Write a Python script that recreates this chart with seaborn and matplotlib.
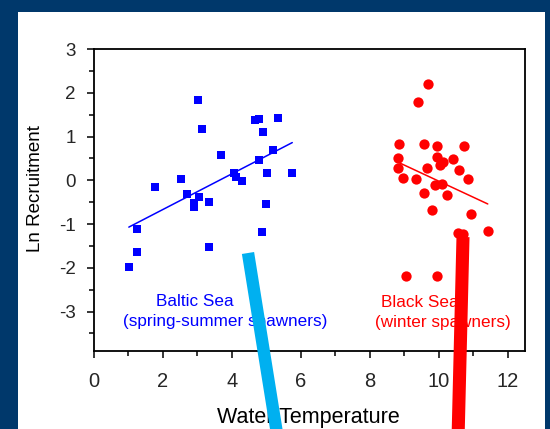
import numpy as np
import pandas as pd
import matplotlib
matplotlib.use("Agg")
import matplotlib.pyplot as plt
from matplotlib.patches import Rectangle
from matplotlib.lines import Line2D
from matplotlib.ticker import MultipleLocator
import seaborn as sns

# -------------------------
# Data
# -------------------------
baltic_temp = [3.03, 3.14, 4.67, 4.78, 5.35, 4.89, 3.69, 5.19, 4.78, 4.07,
               4.11, 4.30, 5.03, 5.75, 2.51, 1.76, 2.70, 3.05, 2.91, 2.89,
               3.34, 4.99, 1.24, 4.86, 1.26, 3.34, 1.01]
baltic_rec = [1.84, 1.18, 1.37, 1.39, 1.43, 1.10, 0.57, 0.70, 0.47, 0.17,
              0.07, -0.01, 0.16, 0.17, 0.04, -0.15, -0.31, -0.39, -0.52, -0.61,
              -0.49, -0.53, -1.12, -1.18, -1.64, -1.52, -1.99]

black_temp = [9.70, 9.39, 8.85, 9.57, 9.95, 10.72, 8.81, 9.94, 10.41, 10.04,
              10.12, 8.81, 9.65, 10.59, 8.96, 9.34, 10.85, 9.90, 10.10, 9.58,
              10.23, 9.81, 10.93, 10.55, 10.69, 11.42, 9.04, 9.95]
black_rec = [2.20, 1.79, 0.83, 0.83, 0.79, 0.78, 0.51, 0.54, 0.48, 0.36,
             0.41, 0.29, 0.27, 0.24, 0.06, 0.03, 0.03, -0.10, -0.09, -0.28,
             -0.34, -0.67, -0.78, -1.21, -1.22, -1.15, -2.19, -2.19]

baltic = pd.DataFrame({"temp": baltic_temp, "rec": baltic_rec})
black = pd.DataFrame({"temp": black_temp, "rec": black_rec})

navy = "#00386b"
blue = "#0000ff"
red = "#ff0000"

sns.set_style("ticks")
plt.rcParams["font.family"] = ["Liberation Sans", "DejaVu Sans"]

fig = plt.figure(figsize=(5.5, 4.29), dpi=100, facecolor=navy)

# white slide panel on navy background
fig.add_artist(Rectangle((18 / 550, 0), 527 / 550, 1 - 12 / 429,
                         transform=fig.transFigure, facecolor="white",
                         edgecolor="none", zorder=0))

ax = fig.add_axes([94 / 550, 78 / 429, 431 / 550, 302 / 429])
ax.set_facecolor("white")

# -------------------------
# Scatter + regression lines
# -------------------------
sns.regplot(data=baltic, x="temp", y="rec", ax=ax, ci=None, truncate=True,
            color=blue, marker="s",
            scatter_kws={"s": 28, "linewidths": 0, "alpha": 1},
            line_kws={"linewidth": 1.1})
sns.regplot(data=black, x="temp", y="rec", ax=ax, ci=None, truncate=True,
            color=red, marker="o",
            scatter_kws={"s": 55, "linewidths": 0, "alpha": 1},
            line_kws={"linewidth": 1.1})

ax.set_xlim(0, 12.5)
ax.set_ylim(-3.9, 3)
ax.xaxis.set_major_locator(MultipleLocator(2))
ax.xaxis.set_minor_locator(MultipleLocator(1))
ax.yaxis.set_major_locator(MultipleLocator(1))
ax.yaxis.set_minor_locator(MultipleLocator(0.5))
ax.set_yticks([-3, -2, -1, 0, 1, 2, 3])
ax.set_yticklabels(["-3", "-2", "-1", "0", "1", "2", "3"])

for s in ax.spines.values():
    s.set_visible(True)
    s.set_color("black")
    s.set_linewidth(1.3)

ax.tick_params(axis="both", which="major", direction="out", length=5,
               width=1.1, color="black")
ax.tick_params(axis="both", which="minor", direction="out", length=3.5,
               width=1.1, color="black")
ax.tick_params(axis="x", which="major", labelsize=14.5, pad=10)
ax.tick_params(axis="y", which="major", labelsize=13.5, pad=8)

ax.set_xlabel("Water Temperature", fontsize=15.5, color="black")
ax.set_ylabel("Ln Recruitment", fontsize=13.5, color="black")
ax.xaxis.set_label_coords(0.497, -0.185)
ax.yaxis.set_label_coords(-0.115, 0.538)

# group labels
ax.text(2.92, -2.78, "Baltic Sea", color=blue, fontsize=12.3,
        ha="center", va="center")
ax.text(3.80, -3.23, "(spring-summer spawners)", color=blue, fontsize=12.3,
        ha="center", va="center")
ax.text(9.46, -2.80, "Black Sea", color=red, fontsize=12.3,
        ha="center", va="center")
ax.text(10.12, -3.26, "(winter spawners)", color=red, fontsize=12.3,
        ha="center", va="center")

# thick pointer lines drawn over the slide
fig.add_artist(Line2D([248 / 550, 278 / 550], [1 - 253 / 429, 1 - 440 / 429],
                      transform=fig.transFigure, color="#00b0f0",
                      linewidth=8.9, solid_capstyle="butt", zorder=10))
fig.add_artist(Line2D([463 / 550, 458 / 550], [1 - 237 / 429, 1 - 440 / 429],
                      transform=fig.transFigure, color=red,
                      linewidth=9.4, solid_capstyle="butt", zorder=10))

fig.savefig("out.png", dpi=100, facecolor=navy)
